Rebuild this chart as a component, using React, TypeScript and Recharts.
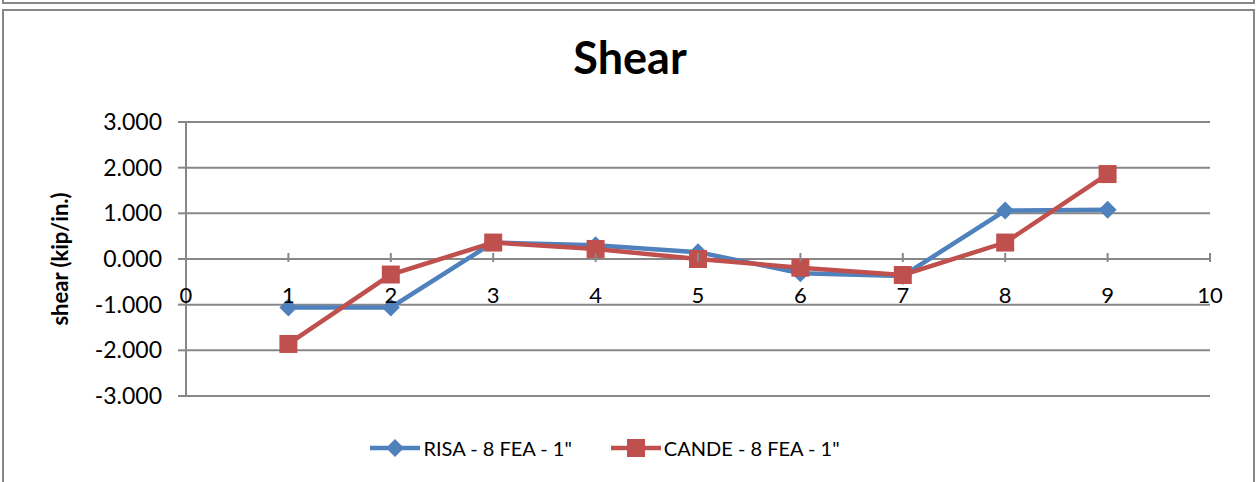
import {
  CartesianGrid,
  Legend,
  Line,
  LineChart,
  XAxis,
  YAxis,
} from "recharts";

const stations = [1, 2, 3, 4, 5, 6, 7, 8, 9];
const risa = [-1.06, -1.06, 0.36, 0.3, 0.15, -0.31, -0.37, 1.06, 1.08];
const cande = [-1.86, -0.34, 0.36, 0.22, 0.0, -0.19, -0.35, 0.36, 1.86];
const xTicks = [0, 1, 2, 3, 4, 5, 6, 7, 8, 9, 10];
const yTicks = [-3, -2, -1, 0, 1, 2, 3];

const series = [
  { key: "risa", name: 'RISA - 8 FEA - 1"', color: "#4F81BD", shape: "diamond" },
  { key: "cande", name: 'CANDE - 8 FEA - 1"', color: "#C0504D", shape: "square" },
];

const data = stations.map((x, i) => ({ x, risa: risa[i], cande: cande[i] }));

const FONT = "Lato, 'Open Sans', sans-serif";
const GRID = "#878787";

const Diamond = (props: any) => {
  const { cx, cy, fill } = props;
  if (cx == null || cy == null) return null;
  const r = 9;
  return (
    <path
      d={`M${cx},${cy - r}L${cx + r},${cy}L${cx},${cy + r}L${cx - r},${cy}Z`}
      fill={fill}
    />
  );
};

const Square = (props: any) => {
  const { cx, cy, fill } = props;
  if (cx == null || cy == null) return null;
  const r = 9;
  return <rect x={cx - r} y={cy - r} width={r * 2} height={r * 2} fill={fill} />;
};

// x labels sit up near the zero line, like the Excel original
const XTick = (props: any) => {
  const { x, y, payload } = props;
  const zeroY = y - 151;
  return (
    <g>
      {payload.value > 0 && (
        <line x1={x} x2={x} y1={zeroY} y2={zeroY + 9} stroke={GRID} strokeWidth={2} />
      )}
      <text
        x={x}
        y={zeroY + 44}
        textAnchor="middle"
        dominantBaseline="middle"
        fontFamily={FONT}
        fontSize={22}
        fill="#000"
      >
        {payload.value}
      </text>
    </g>
  );
};

const LegendContent = () => (
  <div
    style={{
      display: "flex",
      justifyContent: "center",
      gap: 38,
      fontFamily: FONT,
      fontSize: 20,
      color: "#000",
      paddingRight: 48,
    }}
  >
    {series.map((s) => (
      <div key={s.key} style={{ display: "flex", alignItems: "center" }}>
        <svg width={52} height={20}>
          <line x1={1} x2={51} y1={10} y2={10} stroke={s.color} strokeWidth={4.5} />
          {s.shape === "diamond" ? (
            <path d="M26,1L35,10L26,19L17,10Z" fill={s.color} />
          ) : (
            <rect x={17} y={1} width={18} height={18} fill={s.color} />
          )}
        </svg>
        <span style={{ marginLeft: 2 }}>{s.name}</span>
      </div>
    ))}
  </div>
);

export default function App() {
  return (
    <div
      style={{
        position: "absolute",
        left: 0,
        top: 0,
        width: 1257,
        height: 482,
        background: "#fff",
        overflow: "hidden",
      }}
    >
      <div
        style={{
          position: "absolute",
          left: 2,
          top: -4,
          width: 1253,
          height: 8,
          border: `2px solid ${GRID}`,
          boxSizing: "border-box",
        }}
      />
      <div
        style={{
          position: "absolute",
          left: 2,
          top: 9,
          width: 1253,
          height: 480,
          border: `2px solid ${GRID}`,
          boxSizing: "border-box",
        }}
      />
      <div
        style={{
          position: "absolute",
          left: 0,
          top: 30,
          width: 1260,
          textAlign: "center",
          fontFamily: FONT,
          fontWeight: 700,
          fontSize: 45,
          color: "#000",
        }}
      >
        Shear
      </div>
      <div style={{ position: "absolute", left: 0, top: 0 }}>
        <LineChart
          width={1257}
          height={482}
          data={data}
          margin={{ top: 122, right: 47, bottom: 32, left: 0 }}
        >
          <CartesianGrid vertical={false} stroke={GRID} strokeWidth={2} />
          <XAxis
            dataKey="x"
            type="number"
            domain={[0, 10]}
            ticks={xTicks}
            axisLine={false}
            tickLine={false}
            tick={<XTick />}
            height={30}
            interval={0}
          />
          <YAxis
            type="number"
            domain={[-3, 3]}
            ticks={yTicks}
            width={186}
            axisLine={{ stroke: GRID, strokeWidth: 2 }}
            tickLine={{ stroke: GRID, strokeWidth: 2 }}
            tickSize={8}
            tickMargin={16}
            tickFormatter={(v: number) => v.toFixed(3)}
            tick={{ fontFamily: FONT, fontSize: 23, fill: "#000" }}
            label={{
              value: "shear (kip/in.)",
              angle: -90,
              position: "insideLeft",
              offset: 60,
              style: {
                fontFamily: FONT,
                fontWeight: 700,
                fontSize: 22,
                fill: "#000",
                textAnchor: "middle",
              },
            }}
          />
          <Legend
            content={<LegendContent />}
            wrapperStyle={{ position: "absolute", top: 436, left: 0, width: 1257 }}
          />
          {series.map((s) => (
            <Line
              key={s.key}
              dataKey={s.key}
              name={s.name}
              stroke={s.color}
              strokeWidth={4.5}
              fill={s.color}
              dot={s.shape === "diamond" ? <Diamond fill={s.color} /> : <Square fill={s.color} />}
              activeDot={false}
              isAnimationActive={false}
            />
          ))}
        </LineChart>
      </div>
    </div>
  );
}
